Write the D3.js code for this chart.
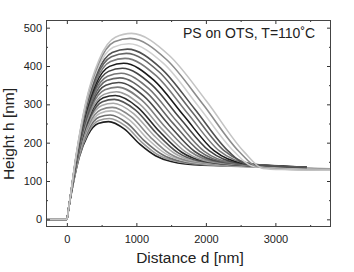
<!DOCTYPE html>
<html><head><meta charset="utf-8">
<script src="https://cdn.jsdelivr.net/npm/d3@7"></script>
<style>body{margin:0;background:#fff}text{font-family:"Liberation Sans",Arial,sans-serif;fill:#222}</style>
</head><body>
<svg id="c" width="354" height="272"></svg>
<script>
// tick values
const xTickValues = [0, 1000, 2000, 3000];
const xMinorValues = [500, 1500, 2500, 3500];
const yTickValues = [0, 100, 200, 300, 400, 500];
const yMinorValues = [50, 150, 250, 350, 450];

// profiles: distance d [nm] and height h [nm], one row per measured profile
const profileD = [
[-300,0,25,90,180,300,450,600,825,1050,1275,1500,1950,3450],
[-300,0,25,92,184,306,459,612,848,1084,1320,1556,2028,3800],
[-300,0,25,94,187,312,468,624,873,1121,1370,1618,2115,3450],
[-300,0,25,96,192,320,480,640,904,1167,1431,1694,2221,3800],
[-300,0,25,98,196,327,490,653,929,1204,1480,1755,2306,3800],
[-300,0,25,100,201,335,502,669,960,1251,1542,1833,2415,3800],
[-300,0,25,102,205,342,512,683,988,1292,1597,1901,2510,3450],
[-300,0,25,105,209,349,524,698,1016,1334,1652,1970,2606,3450],
[-300,0,25,107,214,356,534,712,1044,1376,1708,2040,2704,3800],
[-300,0,25,109,219,365,547,729,1077,1425,1773,2121,2817,3450],
[-300,0,25,112,224,373,560,746,1111,1475,1840,2204,2933,3450],
[-300,0,25,115,229,382,573,764,1145,1526,1907,2288,3050,3450],
[-300,0,25,117,234,391,586,781,1179,1576,1974,2371,3166,3450],
[-300,0,25,120,240,400,599,799,1215,1631,2046,2461,3450],
[-300,0,25,123,245,409,614,818,1251,1684,2117,2550,3450],
[-300,0,25,126,251,419,628,837,1288,1739,2190,2641,3450],
[-300,0,25,128,257,428,641,855,1324,1793,2262,2731,3450],
[-300,0,25,131,261,436,653,871,1355,1839,2323,2565,2807,3450],
[-300,0,25,134,267,446,668,891,1394,1897,2400,2651,2903,3800],
[-300,0,25,137,273,456,683,911,1433,1955,2477,2738,2999,3800],
[-300,0,25,140,279,465,698,930,1470,2010,2550,2820,3090,3800]
];
const profileH = [
[0,0,28,92,163,219,250,255,236,196,166,151,141,136],
[0,0,28,95,168,226,258,263,243,200,167,152,142,132],
[0,0,28,98,174,234,267,272,250,204,169,152,141,136],
[0,0,28,102,181,243,277,283,259,209,170,152,141,131],
[0,0,28,105,187,251,286,292,267,214,171,152,141,131],
[0,0,28,109,194,261,297,303,276,219,173,152,141,131],
[0,0,28,113,200,269,307,313,285,224,174,152,141,135],
[0,0,28,116,207,278,317,323,293,229,175,152,140,135],
[0,0,28,120,213,286,326,333,301,234,176,151,140,130],
[0,0,28,124,221,297,338,345,311,239,177,151,140,134],
[0,0,28,129,228,307,350,357,321,245,177,150,139,134],
[0,0,28,133,236,317,362,369,331,251,178,149,138,134],
[0,0,28,137,244,328,373,381,341,257,178,148,138,134],
[0,0,28,142,252,339,386,394,352,263,179,147,136],
[0,0,28,147,260,350,399,407,363,270,179,146,136],
[0,0,28,151,269,361,412,420,374,276,179,144,135],
[0,0,28,156,277,372,424,433,385,282,179,142,135],
[0,0,28,160,284,382,435,444,394,288,178,145,141,134],
[0,0,28,165,293,394,449,458,406,294,178,140,134,129],
[0,0,28,170,302,406,463,472,417,301,177,137,132,128],
[0,0,28,175,310,417,475,485,428,308,176,133,130,128]
];
const profileGray = ["#1e1e1e","#9a9a9a","#6e6e6e","#b8b8b8","#888888","#a8a8a8","#555555",
  "#2a2a2a","#9c9c9c","#7e7e7e","#4a4a4a","#666666","#757575","#454545","#1a1a1a",
  "#7a7a7a","#666666","#505050","#d0d0d0","#8c8c8c","#c4c4c4"];

const titleText = "PS on OTS, T=110\u02DAC";
const xLabel = "Distance d [nm]";
const yLabel = "Height h [nm]";

const L = 46, R = 331, T = 20, B = 227;
const svg = d3.select("#c");
const x = d3.scaleLinear().domain([-300, 3800]).range([L, R]);
const y = d3.scaleLinear().domain([-20, 520]).range([B, T]);

svg.append("defs").append("clipPath").attr("id", "clip")
  .append("rect").attr("x", L).attr("y", T).attr("width", R - L).attr("height", B - T);

const line = d3.line().x(d => x(d[0])).y(d => y(d[1])).curve(d3.curveMonotoneX);
const g = svg.append("g").attr("clip-path", "url(#clip)");
profileD.forEach((ds, i) => {
  const pts = ds.map((d, j) => [d, profileH[i][j]]);
  g.append("path").attr("d", line(pts)).attr("fill", "none")
    .attr("stroke", profileGray[i]).attr("stroke-width", 1.6);
});

const fmt = d3.format("d");
function styleAxis(sel) {
  sel.select(".domain").remove();
  sel.selectAll("line").attr("stroke", "#333");
  sel.selectAll("text").attr("font-size", "11px").attr("fill", "#222")
    .attr("font-family", "'Liberation Sans',Arial,sans-serif");
}
svg.append("g").attr("transform", `translate(0,${B})`)
  .call(d3.axisBottom(x).tickValues(xTickValues).tickFormat(fmt).tickSize(-4).tickPadding(8)).call(styleAxis);
svg.append("g").attr("transform", `translate(0,${B})`)
  .call(d3.axisBottom(x).tickValues(xMinorValues).tickSize(-2).tickFormat("")).call(styleAxis);
svg.append("g").attr("transform", `translate(0,${T})`)
  .call(d3.axisTop(x).tickValues(xTickValues).tickSize(-4).tickFormat("")).call(styleAxis);
svg.append("g").attr("transform", `translate(0,${T})`)
  .call(d3.axisTop(x).tickValues(xMinorValues).tickSize(-2).tickFormat("")).call(styleAxis);
svg.append("g").attr("transform", `translate(${L},0)`)
  .call(d3.axisLeft(y).tickValues(yTickValues).tickFormat(fmt).tickSize(-4).tickPadding(4)).call(styleAxis);
svg.append("g").attr("transform", `translate(${L},0)`)
  .call(d3.axisLeft(y).tickValues(yMinorValues).tickSize(-2).tickFormat("")).call(styleAxis);
svg.append("g").attr("transform", `translate(${R},0)`)
  .call(d3.axisRight(y).tickValues(yTickValues).tickSize(-4).tickFormat("")).call(styleAxis);
svg.append("g").attr("transform", `translate(${R},0)`)
  .call(d3.axisRight(y).tickValues(yMinorValues).tickSize(-2).tickFormat("")).call(styleAxis);

svg.append("rect").attr("x", L + 0.5).attr("y", T + 0.5).attr("width", R - L - 1).attr("height", B - T - 1)
  .attr("fill", "none").attr("stroke", "#444").attr("stroke-width", 1);

svg.append("text").attr("x", 183).attr("y", 38).attr("font-size", "14px").text(titleText);
svg.append("text").attr("x", 190).attr("y", 263).attr("text-anchor", "middle")
  .attr("font-size", "15.5px").text(xLabel);
svg.append("text").attr("transform", "translate(14,134) rotate(-90)").attr("text-anchor", "middle")
  .attr("font-size", "15.5px").text(yLabel);
</script>
</body></html>
